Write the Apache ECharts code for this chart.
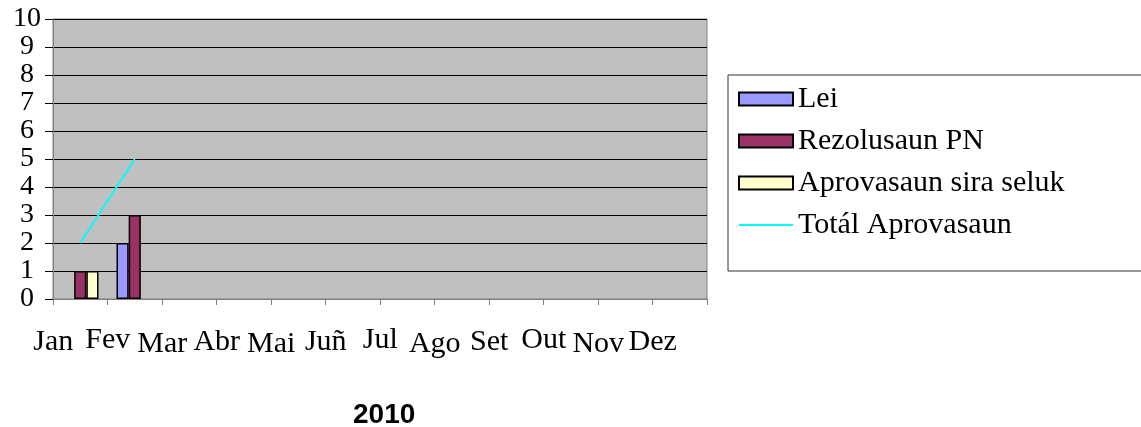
<!DOCTYPE html>
<html>
<head>
<meta charset="utf-8">
<script src="https://cdn.jsdelivr.net/npm/echarts@6/dist/echarts.min.js"></script>
<style>
  html, body { margin: 0; padding: 0; background: #fff; }
  #chart { width: 1141px; height: 427px; }
</style>
</head>
<body>
<div id="chart"></div>
<script>
// data
const months = ['Jan', 'Fev', 'Mar', 'Abr', 'Mai', 'Juñ', 'Jul', 'Ago', 'Set', 'Out', 'Nov', 'Dez'];
const lei = [null, 2, null, null, null, null, null, null, null, null, null, null];
const rezolusaun = [1, 3, null, null, null, null, null, null, null, null, null, null];
const aprovasaun = [1, null, null, null, null, null, null, null, null, null, null, null];
const totalAprov = [2, 5, null, null, null, null, null, null, null, null, null, null];
const yearTitle = '2010';

// month labels sit staggered on three rows (style only)
const labelDrop = [4, 0, 9, 4, 9, 4, 0, 9, 4, 0, 9, 4];

const serif = 'Liberation Serif';
const rich = {};
labelDrop.forEach((d, i) => {
    rich['m' + i] = {
        fontFamily: serif, fontSize: 30, color: '#000', lineHeight: 30,
        padding: [d, 54, 0, 0]
    };
});

const barStyle = (color) => ({
    color: color, borderColor: '#000', borderWidth: 1.5
});

const getOption = () => {
    return {
        animation: false,
        backgroundColor: '#fff',
        title: {
            text: yearTitle,
            left: 348,
            top: 396,
            textStyle: { fontFamily: 'Liberation Sans', fontWeight: 'bold', fontSize: 28, color: '#000' }
        },
        grid: {
            left: 53, right: 434, top: 19, bottom: 128,
            show: true, backgroundColor: '#c0c0c0', borderColor: '#808080', borderWidth: 1
        },
        legend: {
            orient: 'vertical',
            left: 728, top: 75,
            padding: [9, 120, 31, 10],
            borderColor: '#333', borderWidth: 1,
            backgroundColor: '#fff',
            itemWidth: 54, itemHeight: 13,
            itemGap: 12,
            selectedMode: false,
            textStyle: {
                fontFamily: serif, fontSize: 30, color: '#000',
                lineHeight: 22, padding: [8, 0, 0, 0]
            },
            data: [
                { name: 'Lei', icon: 'rect' },
                { name: 'Rezolusaun PN', icon: 'rect' },
                { name: 'Aprovasaun sira seluk', icon: 'rect' },
                { name: 'Totál Aprovasaun', icon: 'path://M0,0L54,0L54,2L0,2Z' }
            ]
        },
        xAxis: {
            type: 'category',
            data: months,
            boundaryGap: true,
            axisLine: { lineStyle: { color: '#808080', width: 1 } },
            axisTick: { show: true, length: 6, lineStyle: { color: '#808080' } },
            axisLabel: {
                interval: 0,
                margin: 26,
                verticalAlign: 'top',
                formatter: (value, idx) => '{m' + idx + '|' + value + '}',
                rich: rich
            }
        },
        yAxis: {
            type: 'value',
            min: 0, max: 10, interval: 1,
            axisLine: { show: true, lineStyle: { color: '#808080' } },
            axisTick: { show: true, length: 8, lineStyle: { color: '#000' } },
            axisLabel: {
                align: 'center', margin: 26,
                hideOverlap: false,
                fontFamily: serif, fontSize: 28, color: '#000',
                lineHeight: 20, padding: [4, 0, 0, 0]
            },
            splitLine: { show: true, lineStyle: { color: '#000', width: 1 } }
        },
        series: [
            {
                name: 'Lei', type: 'bar', data: lei,
                barGap: 0, barCategoryGap: '33%',
                itemStyle: barStyle('#9999ff')
            },
            {
                name: 'Rezolusaun PN', type: 'bar', data: rezolusaun,
                barGap: 0, barCategoryGap: '33%',
                itemStyle: barStyle('#993366')
            },
            {
                name: 'Aprovasaun sira seluk', type: 'bar', data: aprovasaun,
                barGap: 0, barCategoryGap: '33%',
                itemStyle: barStyle('#ffffcc')
            },
            {
                name: 'Totál Aprovasaun', type: 'line', data: totalAprov,
                symbol: 'none',
                lineStyle: { color: '#00ffff', width: 2 },
                itemStyle: { color: '#00ffff' }
            }
        ]
    };
};

const initCharts = () => {
    const chart = echarts.init(document.getElementById('chart'));
    chart.setOption(getOption());
};

window.addEventListener('load', () => {
    initCharts();
});
</script>
</body>
</html>
